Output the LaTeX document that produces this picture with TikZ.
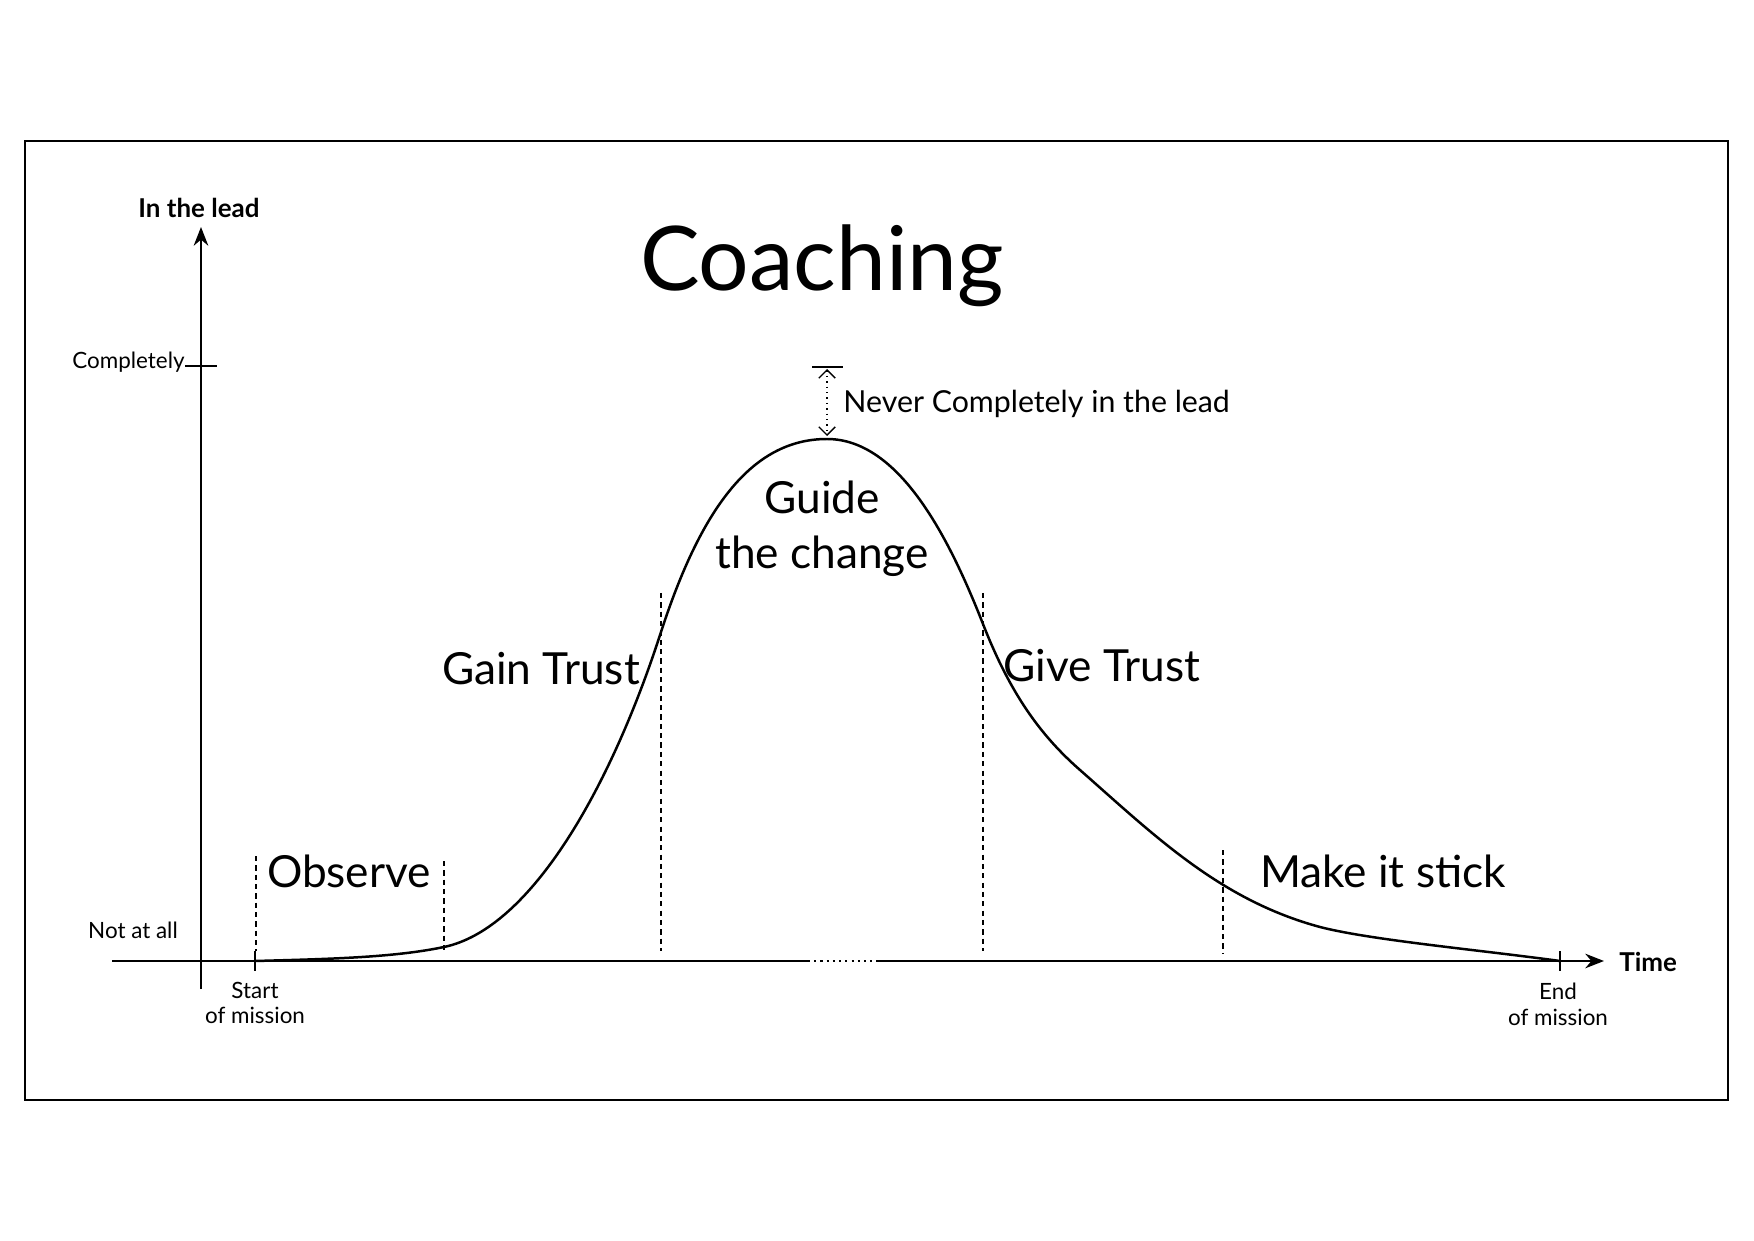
\documentclass[tikz,border=0pt]{standalone}
\usepackage{fontspec}
\setmainfont{Lato}
\usetikzlibrary{arrows.meta, positioning, calc}

\begin{document}
\begin{tikzpicture}[x=0.1693mm, y=-0.1693mm, >=Stealth]
        % Define styles
        \tikzstyle{axis} = [line width=1.1pt]
        \tikzstyle{phase} = [font=\fontsize{21.3}{26}\selectfont, inner sep=0pt]
        \tikzstyle{small} = [font=\fontsize{10.8}{12.4}\selectfont, inner sep=0pt, align=center]
        \tikzstyle{bound} = [line width=1pt, dash pattern=on 2.5pt off 2pt]
        \tikzstyle{curve} = [line width=1.2pt, line join=round]

        % Page and frame
        \useasboundingbox (0,0) rectangle (1754,1241);
        \draw[line width=0.6pt] (25,141) rectangle (1728,1100);

        % Axes
        \coordinate (origin) at (201,961);
        \coordinate (ytop) at (201,227);
        \coordinate (ybot) at (201,989);
        \coordinate (xleft) at (112,961);
        \coordinate (gapl) at (808,961);
        \coordinate (gapr) at (876,961);
        \coordinate (xright) at (1604,961);
        \draw[axis, -{Stealth[length=9pt, width=7pt]}] (ybot) -- (ytop);
        \draw[axis] (xleft) -- (gapl);
        \draw[line width=1pt, dotted] (gapl) -- (gapr);
        \draw[axis, -{Stealth[length=9pt, width=7pt]}] (gapr) -- (xright);

        \node (ylbl) [font=\bfseries\fontsize{12.5}{15}\selectfont] at (199,208) {In the lead};
        \node (xlbl) [font=\bfseries\fontsize{12.5}{15}\selectfont, anchor=west, inner sep=0pt] at (1619,962) {Time};

        % Ticks
        \coordinate (comp) at (201,366);
        \draw[line width=0.6pt] ($(comp)+(-16,0)$) -- ($(comp)+(16,0)$);
        \node (complbl) [small, anchor=east] at ($(comp)+(-16,-4)$) {Completely};
        \node (notlbl) [small] at (133,930) {Not at all};
        \coordinate (start) at (255,961);
        \coordinate (end) at (1560,961);
        \draw[line width=0.8pt] ($(start)+(0,-10)$) -- ($(start)+(0,10)$);
        \draw[line width=0.8pt] ($(end)+(0,-10)$) -- ($(end)+(0,10)$);
        \node (startlbl) [small] at (255,1003) {Start\\of mission};
        \node (endlbl) [small] at (1558,1004) {End\\of mission};

        % Phase boundaries
        \draw[bound] (256,856) -- (256,951);
        \draw[bound] (444,861) -- (444,951);
        \draw[bound] (661,593) -- (661,951);
        \draw[bound] (983,593) -- (983,951);
        \draw[bound] (1223,850) -- (1223,954);

        % Curve
        \coordinate (obs) at (444,947);
        \coordinate (gain) at (661,632);
        \coordinate (peak) at (827,439);
        \coordinate (give) at (983,624);
        \coordinate (shoulder) at (1080,770);
        \coordinate (stick) at (1320,927);
        \draw[curve] (start) .. controls (330,959) and (394,957.5) .. (obs)
            .. controls (530,929) and (610,790) .. (gain)
            .. controls (700,512) and (750,439) .. (peak)
            .. controls (900,439) and (950,540) .. (give)
            .. controls (1010,693) and (1040,735) .. (shoulder)
            .. controls (1155,836) and (1220,900) .. (stick)
            .. controls (1370,940) and (1480,950) .. (end);

        % Peak marker
        \coordinate (cap) at (827,367);
        \draw[line width=0.6pt] ($(cap)+(-15,0)$) -- ($(cap)+(16,0)$);
        \draw[line width=0.6pt, dotted, {Straight Barb[length=4pt]}-{Straight Barb[length=4pt]}] ($(cap)+(0,2)$) -- ($(peak)+(0,-3)$);
        \node (never) [font=\fontsize{14.6}{17}\selectfont, anchor=west, inner sep=0pt] at (843,404) {Never Completely in the lead};

        % Labels
        \node (title) [font=\fontsize{43}{50}\selectfont] at (822,266) {Coaching};
        \node (observe) [phase] at (349,871) {Observe};
        \node (gainlbl) [phase] at (541,669) {Gain Trust};
        \node (guide) [phase, align=center, font=\fontsize{21.3}{26.5}\selectfont] at (822,529) {Guide\\the change};
        \node (givelbl) [phase] at (1102,666) {Give Trust};
        \node (sticklbl) [phase] at (1383,871) {Make it stick};
\end{tikzpicture}
\end{document}
